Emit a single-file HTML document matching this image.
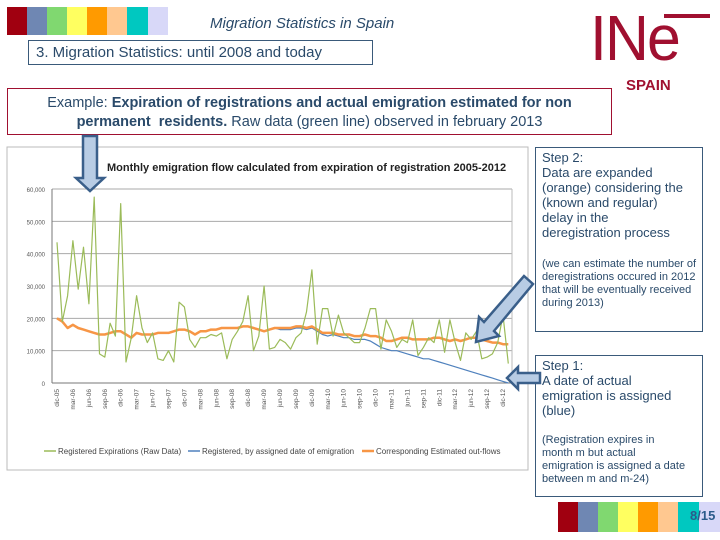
<!DOCTYPE html>
<html><head><meta charset="utf-8"><style>
body{margin:0;width:720px;height:540px;background:#fff;position:relative;overflow:hidden;font-family:"Liberation Sans",sans-serif}
.a{position:absolute}
.sw{position:absolute;height:100%}
</style></head><body>
<div class="a" style="left:7px;top:7px;width:161px;height:28px">
<div class="sw" style="left:0;width:20px;background:#a00010"></div><div class="sw" style="left:20px;width:20px;background:#6f87b3"></div><div class="sw" style="left:40px;width:20px;background:#80d870"></div><div class="sw" style="left:60px;width:20px;background:#ffff60"></div><div class="sw" style="left:80px;width:20px;background:#ff9a00"></div><div class="sw" style="left:100px;width:20px;background:#ffc890"></div><div class="sw" style="left:120px;width:21px;background:#00c8c0"></div><div class="sw" style="left:141px;width:20px;background:#d8d8f8"></div></div>
<div class="a" style="left:210px;top:15px;font-size:15px;font-style:italic;color:#2a4a6a">Migration Statistics in Spain</div>
<div class="a" style="left:28px;top:40px;width:345px;height:25px;border:1px solid #3a5a7a;box-sizing:border-box;font-size:15px;color:#2a4a6a;padding:3px 0 0 7px">3. Migration Statistics: until 2008 and today</div>
<div class="a" style="left:590px;top:8px;font-size:64px;color:#a01030;line-height:60px;transform:scaleX(0.95);transform-origin:left top;letter-spacing:-2px">INe</div>
<div class="a" style="left:664px;top:14px;width:46px;height:4px;background:#a01030"></div>
<div class="a" style="left:626px;top:77px;font-size:15px;font-weight:bold;color:#a01030">SPAIN</div>
<div class="a" style="left:7px;top:88px;width:605px;height:47px;border:1px solid #a01030;box-sizing:border-box;font-size:14.5px;color:#2a4a6a;text-align:center;padding-top:5px;line-height:19px">Example: <b>Expiration of registrations and actual emigration estimated for non permanent&nbsp; residents.</b> Raw data (green line) observed in february 2013</div>
<div class="a" style="left:535px;top:147px;width:168px;height:185px;border:1px solid #3a5a7a;box-sizing:border-box;padding:2px 12px 0 6px;font-size:13px;color:#2a4a6a;line-height:15px">Step 2:<br>Data are expanded (orange) considering the (known and regular) delay in the deregistration process<div style="font-size:11px;line-height:13px;margin-top:18px;margin-right:-8px">(we can estimate the number of deregistrations occured in 2012 that will be eventually received during 2013)</div></div>
<div class="a" style="left:535px;top:355px;width:168px;height:142px;border:1px solid #3a5a7a;box-sizing:border-box;padding:2px 16px 0 6px;font-size:13px;color:#2a4a6a;line-height:15px">Step 1:<br>A date of actual emigration is assigned (blue)<div style="font-size:11px;line-height:13px;margin-top:16px">(Registration expires in month m but actual emigration is assigned a date between m and m-24)</div></div>
<div class="a" style="left:558px;top:502px;width:162px;height:30px">
<div class="sw" style="left:0;width:20px;background:#a00010"></div><div class="sw" style="left:20px;width:20px;background:#6f87b3"></div><div class="sw" style="left:40px;width:20px;background:#80d870"></div><div class="sw" style="left:60px;width:20px;background:#ffff60"></div><div class="sw" style="left:80px;width:20px;background:#ff9a00"></div><div class="sw" style="left:100px;width:20px;background:#ffc890"></div><div class="sw" style="left:120px;width:21px;background:#00c8c0"></div><div class="sw" style="left:141px;width:21px;background:#d8d8f8"></div></div>
<div class="a" style="left:690px;top:508px;font-size:13px;font-weight:bold;color:#2a5a8a">8/15</div>
<svg class="a" style="left:0;top:0" width="720" height="540" id="chart">
<rect x="7" y="147" width="521" height="323" fill="#fff" stroke="#bbb"/>
<text x="107" y="171" font-size="11" font-weight="bold" fill="#222">Monthly emigration flow calculated from expiration of registration 2005-2012</text>
<g id="grid"></g><g id="series"></g><g id="xl"></g>
<g font-size="8" fill="#444">
<line x1="44" y1="451" x2="56" y2="451" stroke="#9bbb59" stroke-width="1.5"/><text x="58" y="454">Registered Expirations (Raw Data)</text>
<line x1="188" y1="451" x2="200" y2="451" stroke="#4f81bd" stroke-width="1.5"/><text x="202" y="454">Registered, by assigned date of emigration</text>
<line x1="362" y1="451" x2="374" y2="451" stroke="#f79646" stroke-width="2.5"/><text x="376" y="454">Corresponding Estimated out-flows</text></g>
<path d="M83,136 h14 v42 h7 l-14,13 l-14,-13 h7 z" fill="#b8cce4" stroke="#3a5f8a" stroke-width="2.5"/>
<path d="M533,284 l-9,-8 l-40,46 l-5,-5 l-3,25 l23,-6 l-5,-5 z" fill="#b8cce4" stroke="#3a5f8a" stroke-width="2.5"/>
<path d="M540,373 h-22 v-6 l-11,11 l11,11 v-6 h22 z" fill="#b8cce4" stroke="#3a5f8a" stroke-width="2.5"/>
</svg>
<script>
const tickValues=[0,10000,20000,30000,40000,50000,60000];
const tickLabels=["0","10,000","20,000","30,000","40,000","50,000","60,000"];
const xLabels=["dic-05","mar-06","jun-06","sep-06","dic-06","mar-07","jun-07","sep-07","dic-07","mar-08","jun-08","sep-08","dic-08","mar-09","jun-09","sep-09","dic-09","mar-10","jun-10","sep-10","dic-10","mar-11","jun-11","sep-11","dic-11","mar-12","jun-12","sep-12","dic-12"];
const rawData=[43500,19000,27000,44000,29000,42000,24500,57500,9000,8000,18500,14500,55500,6500,14000,27000,17000,12500,15500,7500,7000,10000,6500,25000,23500,13500,11000,14000,14000,15000,14500,15500,7500,13500,16000,19000,27000,10000,14500,30000,10500,11000,13500,12500,10500,14000,15500,22000,35000,12000,23000,23000,14500,21000,15500,14000,12500,12500,17000,23000,23000,10500,19500,16000,11000,13500,12500,19500,8500,11000,14000,12500,19500,9500,19500,12500,7000,15500,13500,16000,7500,8000,9000,12500,21000,6000];
const estimated=[20000,19000,17000,18000,17000,16500,16000,15500,15000,15000,15500,16000,16000,15000,14000,15500,15000,15000,15000,15500,15500,15500,16000,16500,16500,16000,15000,16000,16000,16500,16500,17000,17000,17000,17000,17500,17500,17000,16500,16000,16500,17000,17000,17000,17000,17500,17500,17000,17500,16500,15500,15500,15500,15000,15000,15000,14500,14500,15000,14500,14500,14000,13000,13000,13500,14000,14000,13500,13500,13500,13500,14000,14000,13500,13000,13500,13000,13500,14000,14000,13500,13000,12500,12500,12000,12000];
const assigned=[20000,19000,17000,18000,17000,16500,16000,15500,15000,15000,15500,16000,16000,15000,14000,15500,15000,15000,15000,15500,15500,15500,16000,16500,16500,16000,15000,16000,16000,16500,16500,17000,17000,17000,17000,17500,17500,17000,16500,16000,16500,17000,16500,16500,16500,17000,17000,16500,17000,16000,15000,14500,15000,14500,14000,14000,13500,13500,13500,13000,12000,11000,10500,10000,10000,9500,9000,8500,8000,7500,7500,7000,6500,6000,5500,5000,4500,4000,3500,3000,2500,2000,1500,1000,500,0];
const X0=57,X1=503,Y0=383,Y1=189;
const xs=i=>X0+(X1-X0)*i/84;
const ys=v=>Y0-(Y0-Y1)*v/60000;
const ns="http://www.w3.org/2000/svg";
function mk(t,a,p){const e=document.createElementNS(ns,t);for(const k in a)e.setAttribute(k,a[k]);p.appendChild(e);return e;}
const grid=document.getElementById('grid');
tickValues.forEach((v,i)=>{
 const l=mk('line',{x1:52,x2:512,y1:ys(v),y2:ys(v),stroke:i==0?'#777':'#aaa','stroke-width':1},grid);
 
 
 const t=mk('text',{x:45,y:ys(v)+3,'font-size':6,fill:'#555','text-anchor':'end'},grid);t.textContent=tickLabels[i];
 
 
});
mk('line',{x1:52,x2:52,y1:Y1,y2:Y0,stroke:'#777'},grid);
mk('line',{x1:512,x2:512,y1:Y1,y2:Y0,stroke:'#bbb'},grid);
const xl=document.getElementById('xl');
xLabels.forEach((s,i)=>{const x=xs(i*3);const t=mk('text',{x:x+2,y:389,'font-size':6.5,fill:'#555','text-anchor':'end',transform:`rotate(-90 ${x+2} 389)`},xl);t.textContent=s;
 
 });
function line(arr,color,w,name){
 const d=arr.map((v,i)=>(i?'L':'M')+xs(i).toFixed(1)+','+ys(v).toFixed(1)).join('');
 const p=mk('path',{d,fill:'none',stroke:color,'stroke-width':w,'stroke-linejoin':'round'},document.getElementById('series'));
 
 
}
line(assigned,'#4f81bd',1.2,'assigned-series-line');
line(estimated,'#f79646',2.5,'estimated-series-line');
line(rawData,'#9bbb59',1.2,'raw-series-line');
</script>
</body></html>
